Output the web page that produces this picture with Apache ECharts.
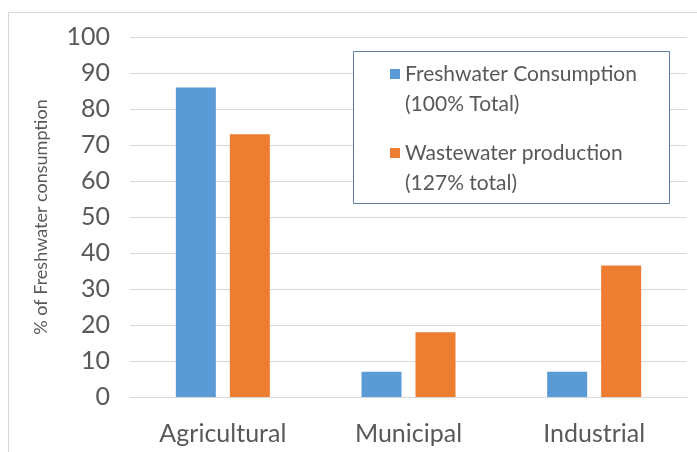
<!DOCTYPE html>
<html><head><meta charset="utf-8">
<script src="https://cdn.jsdelivr.net/npm/echarts@6/dist/echarts.min.js"></script>
<style>html,body{margin:0;padding:0;background:#fff}#c{width:697px;height:452px}</style>
</head><body><div id="c"></div>
<script>
const categories = ['Agricultural', 'Municipal', 'Industrial'];
const seriesNames = ['Freshwater Consumption\n(100% Total)', 'Wastewater production\n(127% total)'];
const freshwater = [86, 7, 7];
const wastewater = [73, 18, 36.5];
const yTicks = {min: 0, max: 100, interval: 10};

const FONT = 'Lato, "Open Sans", sans-serif';
const TXT = '#595959';
const iconPath = 'path://M0,0h10v0.01h-10z M0,10h10v10h-10z M0,59.99h10v0.01h-10z';

const chart = echarts.init(document.getElementById('c'));
chart.setOption({
  animation: false,
  textStyle: {fontFamily: FONT},
  color: ['#5b9bd5', '#ed7d31'],
  grid: {left: 130, right: 10, top: 37, bottom: 55},
  graphic: [
    {type: 'polyline', shape: {points: [[8.5, 460], [8.5, 12.5], [697, 12.5]]}, style: {fill: 'none', stroke: '#d9d9d9', lineWidth: 1}, z: 0},
    {type: 'rect', shape: {x: 353.5, y: 51.5, width: 316, height: 152}, style: {fill: '#fff', stroke: '#5b7fa6', lineWidth: 1}, z: 5}
  ],
  legend: {
    orient: 'vertical', left: 385, top: 54, itemGap: 19, z: 10,
    itemWidth: 10, itemHeight: 60, icon: iconPath,
    textStyle: {color: TXT, fontSize: 21, lineHeight: 30, fontFamily: FONT},
    data: seriesNames
  },
  xAxis: {
    type: 'category', data: categories,
    axisLine: {lineStyle: {color: '#d9d9d9'}}, axisTick: {show: false},
    axisLabel: {color: TXT, fontSize: 25, margin: 24, fontFamily: FONT}
  },
  yAxis: {
    type: 'value', min: yTicks.min, max: yTicks.max, interval: yTicks.interval,
    name: '% of Freshwater consumption', nameLocation: 'middle', nameGap: 80,
    nameTextStyle: {color: TXT, fontSize: 18, fontFamily: FONT},
    axisLabel: {color: TXT, fontSize: 25, margin: 20, fontFamily: FONT},
    splitLine: {lineStyle: {color: '#d9d9d9'}}
  },
  series: [
    {name: seriesNames[0], type: 'bar', data: freshwater, barWidth: 40, barGap: '35%'},
    {name: seriesNames[1], type: 'bar', data: wastewater, barWidth: 40}
  ]
});
</script></body></html>
